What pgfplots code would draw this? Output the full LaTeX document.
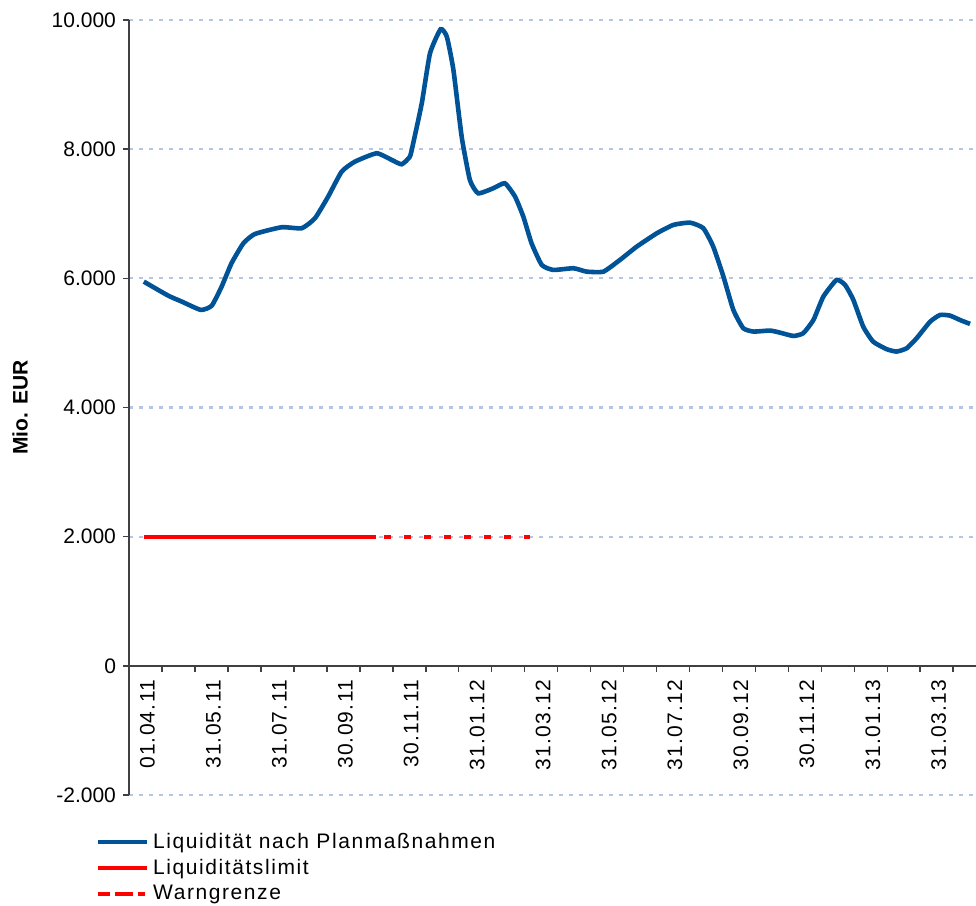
\documentclass[border=0pt]{standalone}
\usepackage{pgfplots}
\pgfplotsset{compat=1.18}
\usepackage{fontspec}
\setmainfont{Liberation Sans}
\newfontfamily\tickfont[LetterSpace=6]{Liberation Sans}
\newfontfamily\legfont[LetterSpace=7.5]{Liberation Sans}
\definecolor{liqblue}{RGB}{0,83,150}
\definecolor{gridblue}{RGB}{180,198,228}
\begin{document}
\begin{tikzpicture}
\begin{axis}[name=ax, scale only axis, width=423.5pt, height=387.5pt,
  xmin=0, xmax=25.69, ymin=-2000, ymax=10000,
  axis y line=left, axis x line=middle,
  x axis line style={-, black!75, line width=0.8pt},
  y axis line style={-, black!75, line width=0.8pt},
  font=\fontsize{10.5}{12}\selectfont,
  ytick={-2000,0,2000,4000,6000,8000,10000},
  yticklabels={-2.000,0,2.000,4.000,6.000,8.000,10.000},
  ytick style={black!75, line width=0.8pt},
  tick align=outside, major tick length=3pt,
  ymajorgrids, grid style={gridblue, line width=1.1pt, dash pattern=on 2pt off 3pt},
  xtick={1,...,25}, xticklabels={},
  xtick style={black!75, line width=0.8pt},
  extra x ticks={0.5,2.5,4.5,6.5,8.5,10.5,12.5,14.5,16.5,18.5,20.5,22.5,24.5},
  extra x tick labels={01.04.11,31.05.11,31.07.11,30.09.11,30.11.11,31.01.12,31.03.12,31.05.12,31.07.12,30.09.12,30.11.12,31.01.13,31.03.13},
  extra x tick style={tick style={draw=none}, grid=none},
  xticklabel style={rotate=90, anchor=east, yshift=-1pt, xshift=-0.5pt, font=\tickfont\fontsize{10.5}{12}\selectfont},
  ylabel={\bfseries Mio. EUR},
  ylabel style={at={(axis description cs:-0.1287,0.5)}, anchor=center},
  legend style={at={(axis description cs:-0.047,-0.038)}, anchor=north west, draw=none, fill=none,
    font=\legfont\fontsize{10.5}{12}\selectfont, row sep=0pt},
  legend cell align=left,
  legend image code/.code={\path (0pt,0pt) -- (24.5pt,0pt); \draw[#1] (0pt,0pt) -- (21pt,0pt);},
]
\addplot[liqblue, line width=2.3pt, smooth, tension=0.3] coordinates {
(0.45,5949) (1.19,5732) (1.60,5640) (2.18,5511) (2.51,5577) (2.81,5872)
(3.11,6234) (3.47,6543) (3.82,6687) (4.63,6791) (5.24,6776) (5.64,6930)
(6.04,7265) (6.45,7652) (6.85,7806) (7.51,7936) (7.97,7833) (8.27,7766)
(8.52,7884) (8.62,8091) (8.88,8710) (9.13,9485) (9.45,9856) (9.64,9742)
(9.84,9226) (10.09,8194) (10.34,7523) (10.59,7317) (11.05,7395) (11.40,7472)
(11.71,7265) (11.96,6955) (12.21,6543) (12.52,6207) (12.87,6130) (13.48,6156)
(13.88,6104) (14.39,6104) (14.89,6285) (15.40,6491) (16.01,6698) (16.51,6827)
(17.02,6862) (17.42,6776) (17.72,6491) (18.03,6026) (18.33,5511) (18.63,5228)
(18.94,5176) (19.44,5191) (19.74,5160) (20.15,5108) (20.45,5150) (20.76,5356)
(21.06,5717) (21.46,5975) (21.72,5898) (21.97,5666) (22.27,5252) (22.57,5020)
(22.98,4903) (23.28,4866) (23.59,4918) (23.89,5073) (24.30,5330) (24.60,5433)
(24.90,5423) (25.20,5356) (25.51,5294)
};
\addlegendentry{Liquidität nach Planmaßnahmen}
\addplot[red, line width=2pt] coordinates {(0.45,2000) (7.49,2000)};
\addlegendentry{Liquiditätslimit}
\addplot[red, line width=2pt, dash pattern=on 3.5pt off 6.5pt,
  legend image code/.code={\path (0pt,0pt) -- (24.5pt,0pt); \draw[red, line width=2pt, dash pattern=on 5pt off 2.5pt on 1.5pt off 2.5pt] (1pt,0pt) -- (21pt,0pt);}]
  coordinates {(0.45,2000) (12.16,2000)};
\addlegendentry{Warngrenze}
\end{axis}
\pgfresetboundingbox
\useasboundingbox ([xshift=-64.5pt,yshift=-55.5pt]ax.south west) rectangle ([yshift=10pt]ax.north east);
\end{tikzpicture}
\end{document}
